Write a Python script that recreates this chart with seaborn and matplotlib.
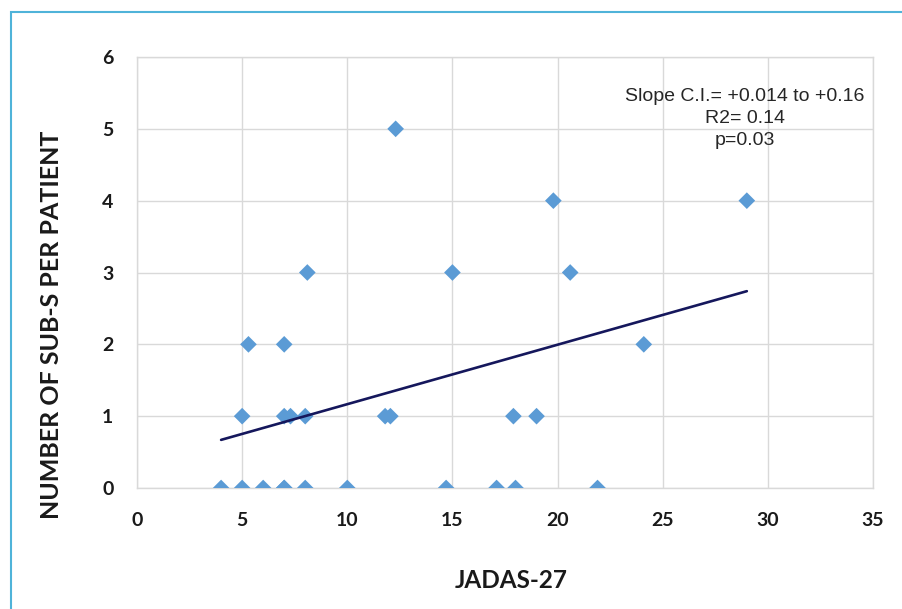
import matplotlib
matplotlib.use("Agg")
import matplotlib.pyplot as plt
import matplotlib.patches as mpatches
import pandas as pd
import seaborn as sns

# scatter data
jadas = [4, 5, 6, 7, 7, 8, 10, 14.7, 17.1, 18, 21.9,
         5, 7, 7.3, 8, 11.8, 12.05, 17.9, 19,
         5.3, 7, 24.1,
         8.1, 15, 20.6,
         19.8, 29,
         12.3]
subs = [0, 0, 0, 0, 0, 0, 0, 0, 0, 0, 0,
        1, 1, 1, 1, 1, 1, 1, 1,
        2, 2, 2,
        3, 3, 3,
        4, 4,
        5]

# trend line end points as drawn in the chart
trend_x = [4, 29]
trend_y = [0.67, 2.74]

stats_lines = ["Slope C.I.= +0.014 to +0.16", "R2= 0.14", "p=0.03"]
x_ticks = [0, 5, 10, 15, 20, 25, 30, 35]
y_ticks = [0, 1, 2, 3, 4, 5, 6]

df = pd.DataFrame({"jadas": jadas, "subs": subs})
trend = pd.DataFrame({"x": trend_x, "y": trend_y})

sns.set_style("white")
plt.rcParams["font.family"] = ["Lato", "DejaVu Sans"]

fig = plt.figure(figsize=(9.02, 6.09), dpi=100)
ax = fig.add_axes([137 / 902, 1 - 488 / 609, (873 - 137) / 902, (488 - 57) / 609])

ax.grid(True, color="#d9d9d9", linewidth=1.0)
ax.set_axisbelow(True)

sns.scatterplot(data=df, x="jadas", y="subs", marker="D", s=72,
                color="#5b9bd5", edgecolor="none", ax=ax, zorder=3)
sns.lineplot(data=trend, x="x", y="y", color="#15175c", linewidth=1.9,
             ax=ax, zorder=4)

ax.set_xlim(0, 35)
ax.set_ylim(0, 6)
ax.set_xticks(x_ticks)
ax.set_yticks(y_ticks)
ax.set_xlabel("")
ax.set_ylabel("")
ax.tick_params(axis="x", length=0, pad=17, labelsize=14, labelcolor="#1a1a1a")
ax.tick_params(axis="y", length=0, pad=17, labelsize=14, labelcolor="#1a1a1a")
for lbl in ax.get_xticklabels() + ax.get_yticklabels():
    lbl.set_fontweight("bold")

for spine in ax.spines.values():
    spine.set_visible(True)
    spine.set_color("#d9d9d9")
    spine.set_linewidth(1.0)

ax.text(28.9, 5.14, "\n".join(stats_lines), ha="center", va="center",
        fontsize=14, family=["Liberation Sans", "DejaVu Sans"],
        color="#262626", linespacing=1.38)

fig.text(52 / 902, 1 - 325 / 609, "NUMBER OF SUB-S PER PATIENT", rotation=90,
         ha="center", va="center", fontsize=18, fontweight="bold", color="#1a1a1a")
fig.text(511 / 902, 1 - 580 / 609, "JADAS-27", ha="center", va="center",
         fontsize=17.5, fontweight="bold", color="#1a1a1a")

# light blue frame on the left and top edge
frame = mpatches.Rectangle((11 / 902, -0.05), 1.0, 1 - 12 / 609 + 0.05,
                           transform=fig.transFigure, fill=False,
                           edgecolor="#4fb3d9", linewidth=1.5)
fig.patches.append(frame)

fig.savefig("out.png", dpi=100)
plt.close(fig)
